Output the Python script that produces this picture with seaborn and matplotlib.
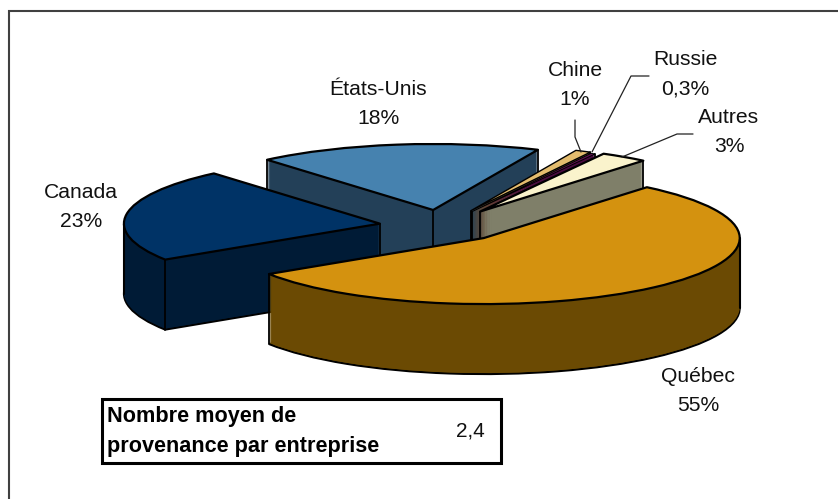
import numpy as np
import matplotlib
matplotlib.use("Agg")
import matplotlib.pyplot as plt
from matplotlib.patches import Rectangle
import seaborn as sns

sns.set_theme(style="white")
plt.rcParams['font.family'] = ['Liberation Sans', 'DejaVu Sans']

# data
labels = ["Québec", "Canada", "États-Unis", "Chine", "Russie", "Autres"]
values = [55, 23, 18, 1, 0.3, 3]
pct_labels = ["55%", "23%", "18%", "1%", "0,3%", "3%"]
top_colors = sns.color_palette(["#D4920F", "#003366", "#4682AF", "#E3BC6E", "#5E0F50", "#FAF3CC"])
side_colors = sns.color_palette(["#6B4A03", "#001B36", "#234058", "#72602F", "#4A0A40", "#7F7F69"])
draw_rank = [6, 5, 1, 2, 3, 4]   # back slices first

box_title = "Nombre moyen de\nprovenance par entreprise"
box_value = "2,4"

# geometry of the squashed pie, in pixels
W, H = 838, 499
cx, cy = 442, 226
rx, ry = 256, 66
depth = 70
explode = [0.245, 0.245, 0.245, 0.26, 0.245, 0.265]
start = 50.4

fig = plt.figure(figsize=(W / 100, H / 100), dpi=100)
ax = fig.add_axes([0, 0, 1, 1])


def pie_layer(off, colors, wprops):
    wedges, _ = ax.pie(values, explode=explode, startangle=start, counterclock=False,
                       colors=colors, center=(0, -off / ry), wedgeprops=wprops)
    return wedges


# extrusion: the same pie stacked downwards, one layer per pixel
for off in range(depth, 0, -1):
    if off == depth:
        wprops = dict(edgecolor="black", linewidth=1.5)
    else:
        wprops = dict(edgecolor="none", linewidth=0)
    wedges = pie_layer(off, side_colors, wprops)
    for w, r in zip(wedges, draw_rank):
        w.set_zorder(r * 1000 + depth - off)

# top faces
top = pie_layer(0, top_colors, dict(edgecolor="black", linewidth=1.6, joinstyle="round"))
for w, r in zip(top, draw_rank):
    w.set_zorder(r * 1000 + 900)
# thin slices would vanish under a full outline
top[3].set_linewidth(1.0)
top[4].set_linewidth(0.7)


def in_wedge(w, x, y):
    dx, dy = x - w.center[0], y - w.center[1]
    ang = np.degrees(np.arctan2(dy, dx)) % 360
    a1, a2 = w.theta1 % 360, w.theta2 % 360
    inside = (a1 <= ang <= a2) if a1 <= a2 else (ang >= a1 or ang <= a2)
    return inside and np.hypot(dx, dy) < w.r


# vertical corners and silhouette lines of the side walls
d = depth / ry
for w, r in zip(top, draw_rank):
    x0, y0 = w.center
    xs = [(x0, y0)]
    for a in (w.theta1, w.theta2):
        xs.append((x0 + np.cos(np.radians(a)), y0 + np.sin(np.radians(a))))
    for x, y in xs:
        if not in_wedge(w, x, y - 0.03):
            ax.plot([x, x], [y - d, y], color="black", lw=1.3, zorder=r * 1000 + 800)
    for a in (0, 180):
        px = x0 + np.cos(np.radians(a))
        if in_wedge(w, px - 0.001 * np.cos(np.radians(a)), y0):
            ax.plot([px, px], [y0 - d, y0], color="black", lw=1.5, zorder=r * 1000 + 800)

ax.set_aspect("auto")
ax.set_xlim(-cx / rx, (W - cx) / rx)
ax.set_ylim((cy - H) / ry, cy / ry)
ax.axis("off")

# overlay in pixel coordinates for frame, labels and box
ov = fig.add_axes([0, 0, 1, 1], facecolor="none")
ov.set_xlim(0, W)
ov.set_ylim(H, 0)
ov.axis("off")

# frame: only top and left sides are in the picture
ov.plot([9, 9, W], [H, 10.5, 10.5], color="#404040", lw=1.5, solid_joinstyle="miter")

label_pos = [(698, 391), (81, 207), (378, 104), (575, 85), (685, 74), (729, 132)]
for name, pct, (x, y) in zip(labels, pct_labels, label_pos):
    ov.text(x, y, name + "\n" + pct, ha="center", va="center", fontsize=15.2,
            linespacing=1.7, color="#111111")

# leader lines
ov.plot([575, 575, 581], [120, 137, 152], color="#222222", lw=0.9)
ov.plot([649, 631, 592], [76, 76, 152], color="#222222", lw=0.9)
ov.plot([693, 677, 622], [134, 134, 157], color="#222222", lw=0.9)

# small box
ov.add_patch(Rectangle((102, 399), 399, 64, facecolor="white", edgecolor="black", lw=2.2))
ov.text(107, 431.5, box_title, ha="left", va="center", fontsize=15.6, fontweight="bold",
        linespacing=1.6, color="black")
ov.text(470, 431, box_value, ha="center", va="center", fontsize=15, color="#111111")

plt.savefig("out.png", dpi=100)
plt.close()
